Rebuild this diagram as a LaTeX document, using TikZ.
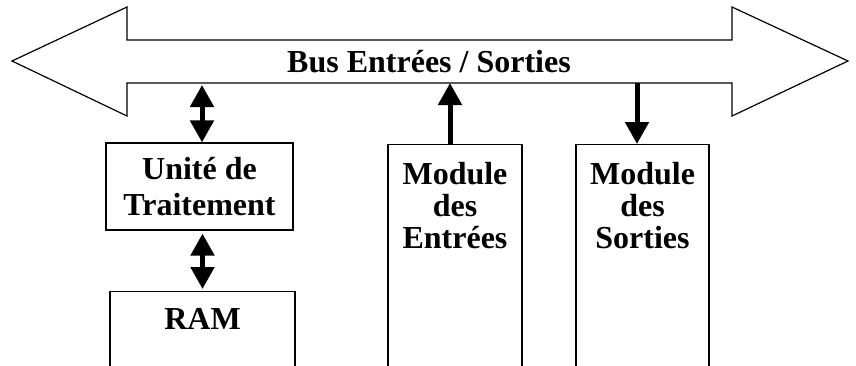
\documentclass[tikz,border=0pt]{standalone}
\usepackage{fontspec}
\setmainfont{Liberation Serif}
\usetikzlibrary{arrows.meta,positioning}

\tikzset{
  bloc/.style={draw, line width=0.6pt, rectangle, inner sep=0pt},
  txt/.style={font=\fontsize{16}{16}\selectfont\bfseries, align=center, inner sep=0pt},
  fleche/.style={line width=2.5pt, >={Triangle[width=11.5pt,length=11pt]}}
}

\begin{document}
\begin{tikzpicture}[x=0.5pt,y=-0.5pt]
\useasboundingbox (0,0) rectangle (856,365);
% le bus
\draw[line width=0.6pt, line join=miter] (12,61) -- (127,7) -- (127,40) -- (732,40) -- (732,7) -- (848,61)
  -- (732,116) -- (732,83) -- (127,83) -- (127,116) -- cycle;
\node[txt] (bus) at (429,62) {Bus Entrées / Sorties};
\coordinate (busU) at (202,85);
\coordinate (busE) at (450,83);
\coordinate (busS) at (637,83);

% les blocs
\node[bloc, txt, font=\fontsize{16}{18}\selectfont\bfseries, minimum width=93.5pt, minimum height=43.5pt] (ut) at (199.5,186.5) {Unité de\\Traitement};
\node[bloc, minimum width=92.5pt, minimum height=50pt, anchor=north] (ram) at (202.5,291) {};
\node[txt, below=8.5pt of ram.north] (ramtxt) {RAM};
\node[bloc, minimum width=67pt, minimum height=125pt, anchor=north] (me) at (455,144) {};
\node[txt, below=9pt of me.north] (metxt) {Module\\des\\Entrées};
\node[bloc, minimum width=66.5pt, minimum height=125pt, anchor=north] (ms) at (642.5,144) {};
\node[txt, below=9pt of ms.north] (mstxt) {Module\\des\\Sorties};

% les liaisons
\draw[fleche, <->] (busU) -- (busU |- ut.north);
\draw[fleche, <->, shorten <=1.5pt, shorten >=1pt] (ram.north |- ut.south) -- (ram.north);
\draw[fleche, ->] (busE |- me.north) -- (busE);
\draw[fleche, ->] (busS) -- (busS |- ms.north);
\end{tikzpicture}
\end{document}
